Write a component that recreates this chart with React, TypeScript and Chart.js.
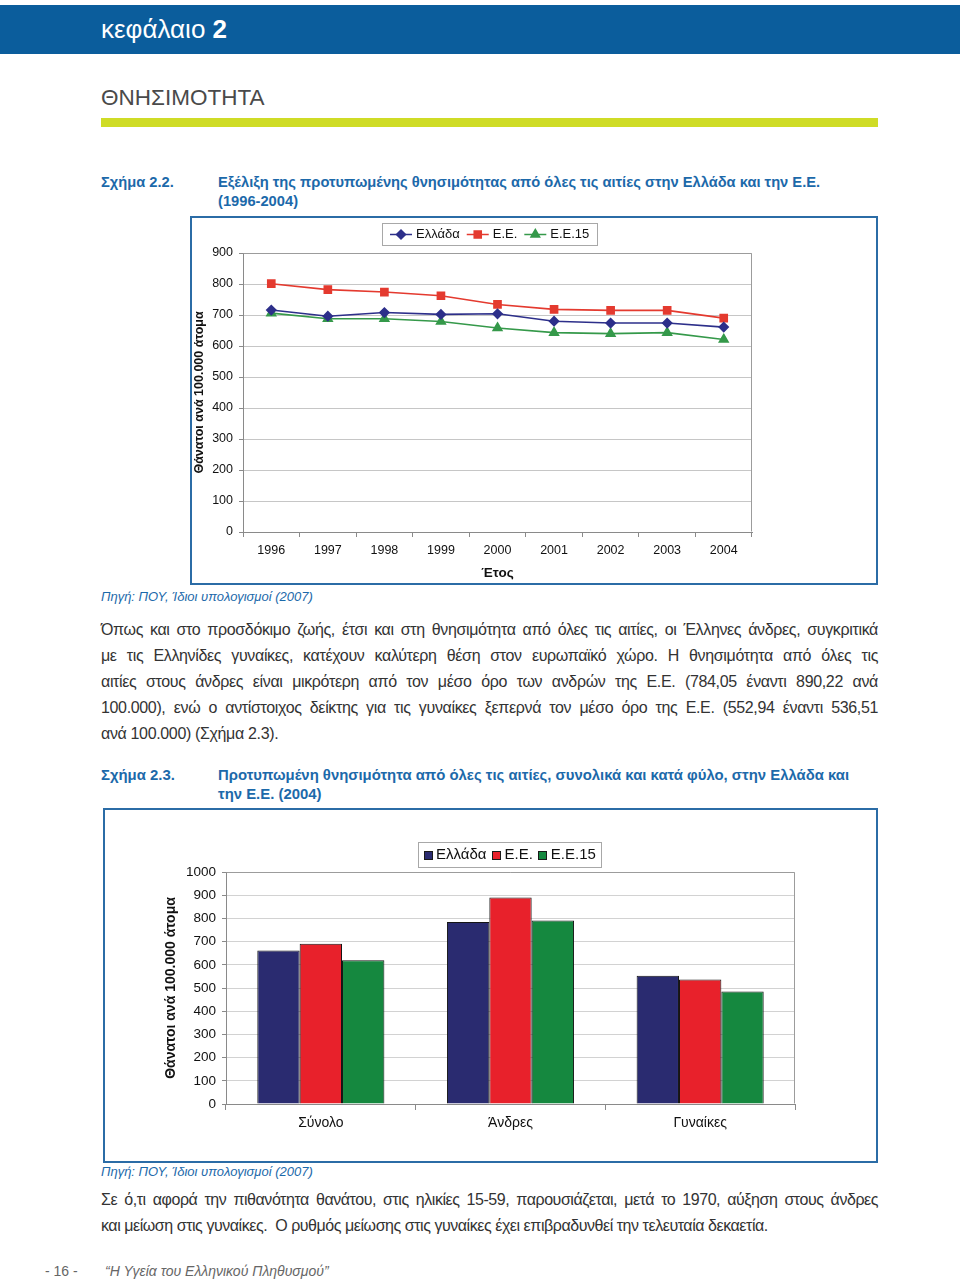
import React, { useEffect, useRef } from "react";
import { Chart, registerables } from "chart.js";
import { drawPoint } from "chart.js/helpers";

Chart.register(...registerables);

// ---------- data ----------
const years = ["1996", "1997", "1998", "1999", "2000", "2001", "2002", "2003", "2004"];
const greeceTrend = [716, 696, 708, 702, 704, 680, 674, 674, 661];
const euTrend = [801, 782, 774, 762, 734, 718, 715, 715, 690];
const eu15Trend = [706, 688, 688, 679, 658, 643, 640, 643, 621];

const groups = ["Σύνολο", "Άνδρες", "Γυναίκες"];
const greeceBars = [662, 784.05, 552.94];
const euBars = [691, 890.22, 536.51];
const eu15Bars = [620, 791, 485];

const seriesNames = ["Ελλάδα", "Ε.Ε.", "Ε.Ε.15"];
const yTitle = "Θάνατοι ανά 100.000 άτομα";
const xTitleLine = "Έτος";

const lineColors = ["#2d2f8a", "#e43a2f", "#35994a"];
const lineMarkers = ["rectRot", "rect", "triangle"];
const barColors = ["#2a2b70", "#e8212b", "#15883f"];

const FONT = '"Liberation Sans", Arial, Helvetica, sans-serif';
const BLUE = "#1c69aa";
const TEXT = "#333333";

// ---------- plugins ----------
const plotFrame = {
  id: "plotFrame",
  afterDraw(chart: any) {
    const { ctx, chartArea } = chart;
    const l = Math.round(chartArea.left) + 0.5;
    const t = Math.round(chartArea.top) + 0.5;
    const r = Math.round(chartArea.right) - 0.5;
    const b = Math.round(chartArea.bottom) - 0.5;
    ctx.save();
    ctx.strokeStyle = "#9c9c9c";
    ctx.lineWidth = 1;
    ctx.beginPath();
    ctx.moveTo(l, t);
    ctx.lineTo(r, t);
    ctx.lineTo(r, b);
    ctx.stroke();
    ctx.restore();
  },
};

const boxLegend = {
  id: "boxLegend",
  afterDraw(chart: any, _args: any, opts: any) {
    if (!opts || !opts.kind) return;
    const { ctx, chartArea } = chart;
    ctx.save();
    ctx.font = `${opts.fontSize}px ${FONT}`;
    const items = chart.data.datasets.map((ds: any) => ({
      label: ds.label,
      color: opts.kind === "line" ? ds.borderColor : ds.backgroundColor,
      style: ds.pointStyle,
      radius: ds.pointRadius,
    }));
    const n = items.length;
    let total = opts.pad * 2;
    items.forEach((it: any, i: number) => {
      total += opts.sym + opts.gap + ctx.measureText(it.label).width + (i < n - 1 ? opts.itemGap : 0);
    });
    const cx = (chartArea.left + chartArea.right) / 2 + (opts.shift || 0);
    let x = Math.round(cx - total / 2);
    const y0 = opts.top;
    const h = opts.height;
    ctx.fillStyle = "#ffffff";
    ctx.fillRect(x, y0, Math.round(total), h);
    ctx.strokeStyle = "#a8a8a8";
    ctx.lineWidth = 1;
    ctx.strokeRect(x + 0.5, y0 + 0.5, Math.round(total), h);
    x += opts.pad;
    const cy = y0 + h / 2 + 0.5;
    items.forEach((it: any) => {
      if (opts.kind === "line") {
        ctx.strokeStyle = it.color;
        ctx.lineWidth = 1.5;
        ctx.beginPath();
        ctx.moveTo(x, cy);
        ctx.lineTo(x + opts.sym, cy);
        ctx.stroke();
        ctx.fillStyle = it.color;
        drawPoint(ctx, { pointStyle: it.style, radius: it.radius, rotation: 0, borderWidth: 1 }, x + opts.sym / 2, cy);
      } else {
        const s = opts.sq;
        const sx = Math.round(x + (opts.sym - s) / 2);
        const sy = Math.round(cy - s / 2);
        ctx.fillStyle = it.color;
        ctx.fillRect(sx, sy, s, s);
        ctx.strokeStyle = "#1a1a1a";
        ctx.lineWidth = 1;
        ctx.strokeRect(sx + 0.5, sy + 0.5, s - 1, s - 1);
      }
      x += opts.sym + opts.gap;
      ctx.fillStyle = "#111";
      ctx.textBaseline = "middle";
      ctx.textAlign = "left";
      ctx.fillText(it.label, x, cy);
      x += ctx.measureText(it.label).width + opts.itemGap;
    });
    ctx.restore();
  },
};

const plainTick = (v: any) => String(v);

// ---------- charts ----------
function TrendChart() {
  const ref = useRef<HTMLCanvasElement | null>(null);
  useEffect(() => {
    if (!ref.current) return;
    const tickFont = { family: FONT, size: 12.5 };
    const trendSeries = [greeceTrend, euTrend, eu15Trend];
    const chart = new Chart(ref.current, {
      type: "line",
      data: {
        labels: years,
        datasets: trendSeries.map((vals, i) => ({
          label: seriesNames[i],
          data: vals,
          borderColor: lineColors[i],
          backgroundColor: lineColors[i],
          pointBackgroundColor: lineColors[i],
          pointBorderColor: lineColors[i],
          pointStyle: lineMarkers[i],
          pointRadius: i === 1 ? 5 : i === 2 ? 5 : 4.5,
          borderWidth: 1.6,
          tension: 0,
        })),
      },
      options: {
        animation: false,
        responsive: false,
        devicePixelRatio: 1,
        layout: { padding: { left: 0, right: 40, top: 35, bottom: 0 } },
        plugins: {
          legend: { display: false },
          tooltip: { enabled: false },
          boxLegend: {
            kind: "line",
            fontSize: 13,
            top: 5,
            height: 22,
            pad: 8,
            sym: 22,
            gap: 4,
            itemGap: 7,
            shift: -8,
          },
        } as any,
        scales: {
          x: {
            offset: true,
            grid: { offset: true, drawOnChartArea: false, tickLength: 5, color: "#8a8a8a" },
            border: { color: "#8a8a8a" },
            ticks: { padding: 6, font: tickFont, color: "#111", maxRotation: 0 },
            title: {
              display: true,
              text: xTitleLine,
              color: "#111",
              font: { family: FONT, size: 13.5, weight: "bold" },
              padding: { top: 0, bottom: 2 },
            },
            afterFit: (s: any) => {
              s.height = 51;
            },
          },
          y: {
            min: 0,
            max: 900,
            ticks: { stepSize: 100, padding: 6, font: tickFont, color: "#111", callback: plainTick },
            grid: { color: "#c6c6c6", tickLength: 4, tickColor: "#8a8a8a" },
            border: { color: "#8a8a8a" },
            title: {
              display: true,
              text: yTitle,
              color: "#111",
              font: { family: FONT, size: 12.5, weight: "bold" },
              padding: 0,
            },
            afterFit: (s: any) => {
              s.width = 51;
            },
          },
        },
      } as any,
      plugins: [plotFrame, boxLegend],
    });
    return () => chart.destroy();
  }, []);
  return (
    <canvas
      ref={ref}
      width={600}
      height={365}
      style={{ position: "absolute", left: 192, top: 218, width: 600, height: 365 }}
    />
  );
}

function GroupChart() {
  const ref = useRef<HTMLCanvasElement | null>(null);
  useEffect(() => {
    if (!ref.current) return;
    const tickFont = { family: FONT, size: 13.5 };
    const barSeries = [greeceBars, euBars, eu15Bars];
    const chart = new Chart(ref.current, {
      type: "bar",
      data: {
        labels: groups,
        datasets: barSeries.map((vals, i) => ({
          label: seriesNames[i],
          data: vals,
          backgroundColor: barColors[i],
          borderColor: "#151515",
          borderWidth: 1,
          categoryPercentage: 0.67,
          barPercentage: 1.0,
        })),
      },
      options: {
        animation: false,
        responsive: false,
        devicePixelRatio: 1,
        layout: { padding: { left: 58, right: 81, top: 62, bottom: 0 } },
        plugins: {
          legend: { display: false },
          tooltip: { enabled: false },
          boxLegend: {
            kind: "bar",
            fontSize: 15,
            top: 32,
            height: 25,
            pad: 5,
            sym: 10,
            gap: 3,
            itemGap: 5,
            sq: 9,
            shift: -1,
          },
        } as any,
        scales: {
          x: {
            grid: { offset: true, drawOnChartArea: false, tickLength: 6, color: "#8a8a8a" },
            border: { color: "#8a8a8a" },
            ticks: { padding: 5, font: { family: FONT, size: 14 }, color: "#111", maxRotation: 0 },
            afterFit: (s: any) => {
              s.height = 57;
            },
          },
          y: {
            min: 0,
            max: 1000,
            ticks: { stepSize: 100, padding: 6, font: tickFont, color: "#111", callback: plainTick },
            grid: { color: "#d2d2d2", tickLength: 4, tickColor: "#8a8a8a" },
            border: { color: "#8a8a8a" },
            title: {
              display: true,
              text: yTitle,
              color: "#111",
              font: { family: FONT, size: 14, weight: "bold" },
              padding: 0,
            },
            afterFit: (s: any) => {
              s.width = 63;
            },
          },
        },
      } as any,
      plugins: [plotFrame, boxLegend],
    });
    return () => chart.destroy();
  }, []);
  return (
    <canvas
      ref={ref}
      width={771}
      height={351}
      style={{ position: "absolute", left: 105, top: 810, width: 771, height: 351 }}
    />
  );
}

// ---------- page text ----------
const para1 = [
  "Όπως και στο προσδόκιμο ζωής, έτσι και στη θνησιμότητα από όλες τις αιτίες, οι Έλληνες άνδρες, συγκριτικά",
  "με τις Ελληνίδες γυναίκες, κατέχουν καλύτερη θέση στον ευρωπαϊκό χώρο. Η θνησιμότητα από όλες τις",
  "αιτίες στους άνδρες είναι μικρότερη από τον μέσο όρο των ανδρών της Ε.Ε. (784,05 έναντι 890,22 ανά",
  "100.000), ενώ ο αντίστοιχος δείκτης για τις γυναίκες ξεπερνά τον μέσο όρο της Ε.Ε. (552,94 έναντι 536,51",
  "ανά 100.000) (Σχήμα 2.3).",
];
const para2 = [
  "Σε ό,τι αφορά την πιθανότητα θανάτου, στις ηλικίες 15-59, παρουσιάζεται, μετά το 1970, αύξηση στους άνδρες",
  "και μείωση στις γυναίκες.  Ο ρυθμός μείωσης στις γυναίκες έχει επιβραδυνθεί την τελευταία δεκαετία.",
];

function Lines({ lines, top, size, spacing, lastJustify }: { lines: string[]; top: number; size: number; spacing: number; lastJustify: boolean }) {
  return (
    <>
      {lines.map((ln, i) => {
        const justify = i < lines.length - 1 || lastJustify;
        return (
          <div
            key={i}
            style={{
              position: "absolute",
              left: 101,
              top: top + i * 26,
              width: 777,
              height: 26,
              lineHeight: "26px",
              fontSize: size,
              letterSpacing: spacing,
              color: TEXT,
              textAlign: justify ? "justify" : "left",
              textAlignLast: justify ? "justify" : "left",
              whiteSpace: "pre-wrap",
            } as any}
          >
            {ln}
          </div>
        );
      })}
    </>
  );
}

export default function App() {
  const abs = { position: "absolute" as const };
  return (
    <div
      style={{
        position: "absolute",
        left: 0,
        top: 0,
        width: 960,
        height: 1279,
        background: "#ffffff",
        overflow: "hidden",
        fontFamily: FONT,
      }}
    >
      <div style={{ ...abs, left: 0, top: 5, width: 960, height: 49, background: "#0b5d9c" }} />
      <div style={{ ...abs, left: 101, top: 14, height: 30, lineHeight: "30px", fontSize: 26, color: "#fff", whiteSpace: "nowrap" }}>
        κεφάλαιο <b>2</b>
      </div>
      <div style={{ ...abs, left: 101, top: 85, height: 26, lineHeight: "26px", fontSize: 22.5, color: "#4a4a4a" }}>ΘΝΗΣΙΜΟΤΗΤΑ</div>
      <div style={{ ...abs, left: 101, top: 118, width: 777, height: 9, background: "#cfdc26" }} />

      <div style={{ ...abs, left: 101, top: 173, lineHeight: "19px", fontSize: 14.7, fontWeight: "bold", color: BLUE }}>Σχήμα 2.2.</div>
      <div style={{ ...abs, left: 218, top: 173, width: 660, lineHeight: "19px", fontSize: 14.7, fontWeight: "bold", color: BLUE, whiteSpace: "nowrap" }}>
        Εξέλιξη της προτυπωμένης θνησιμότητας από όλες τις αιτίες στην Ελλάδα και την Ε.Ε.
        <br />
        (1996-2004)
      </div>

      <div style={{ ...abs, left: 190, top: 216, width: 688, height: 369, border: "2px solid #2b6ca6", boxSizing: "border-box" }} />
      <TrendChart />

      <div style={{ ...abs, left: 101, top: 589, lineHeight: "16px", fontSize: 13, fontStyle: "italic", color: BLUE }}>
        Πηγή: ΠΟΥ, Ίδιοι υπολογισμοί (2007)
      </div>

      <Lines lines={para1} top={617} size={16} spacing={-0.35} lastJustify={false} />

      <div style={{ ...abs, left: 101, top: 766, lineHeight: "19px", fontSize: 14.9, fontWeight: "bold", color: BLUE }}>Σχήμα 2.3.</div>
      <div style={{ ...abs, left: 218, top: 766, width: 660, lineHeight: "19px", fontSize: 14.9, fontWeight: "bold", color: BLUE, whiteSpace: "nowrap" }}>
        Προτυπωμένη θνησιμότητα από όλες τις αιτίες, συνολικά και κατά φύλο, στην Ελλάδα και
        <br />
        την Ε.Ε. (2004)
      </div>

      <div style={{ ...abs, left: 103, top: 808, width: 775, height: 355, border: "2px solid #2b6ca6", boxSizing: "border-box" }} />
      <GroupChart />

      <div style={{ ...abs, left: 101, top: 1164, lineHeight: "16px", fontSize: 13, fontStyle: "italic", color: BLUE }}>
        Πηγή: ΠΟΥ, Ίδιοι υπολογισμοί (2007)
      </div>

      <Lines lines={para2} top={1187} size={16} spacing={-0.45} lastJustify={false} />

      <div style={{ ...abs, left: 45, top: 1262, lineHeight: "18px", fontSize: 14, color: "#666" }}>- 16 -</div>
      <div style={{ ...abs, left: 105, top: 1262, lineHeight: "18px", fontSize: 14, fontStyle: "italic", color: "#666", whiteSpace: "nowrap" }}>
        “Η Υγεία του Ελληνικού Πληθυσμού”
      </div>
    </div>
  );
}
